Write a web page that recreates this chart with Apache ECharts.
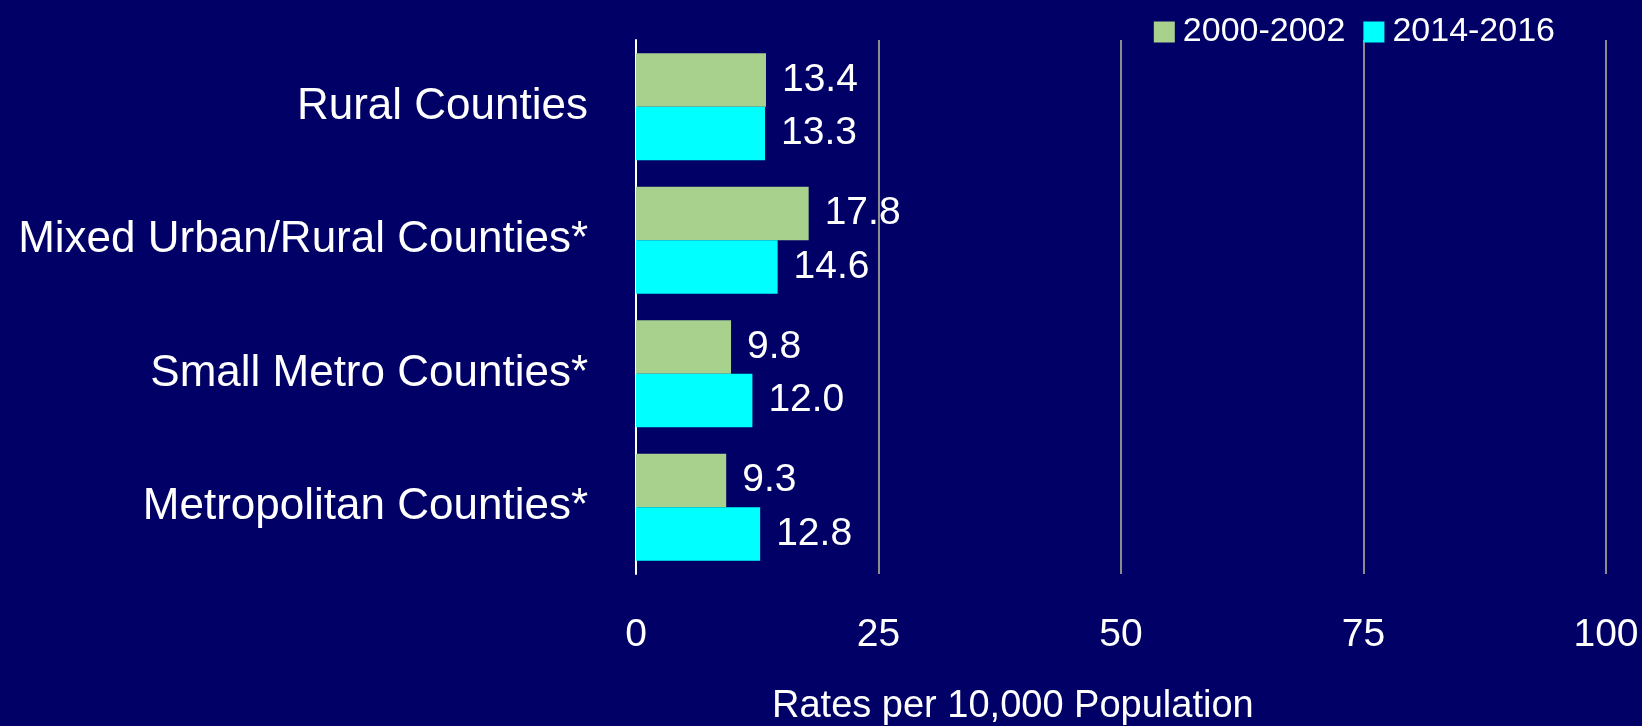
<!DOCTYPE html>
<html>
<head>
<meta charset="utf-8">
<script src="https://cdn.jsdelivr.net/npm/echarts@6/dist/echarts.min.js"></script>
<style>
  html, body { margin: 0; padding: 0; background: #000066; }
  #chart { width: 1642px; height: 726px; }
</style>
</head>
<body>
<div id="chart"></div>
<script>
var categories = ['Rural Counties', 'Mixed Urban/Rural Counties*', 'Small Metro Counties*', 'Metropolitan Counties*'];
var period1 = [13.4, 17.8, 9.8, 9.3];
var period2 = [13.3, 14.6, 12.0, 12.8];
var seriesNames = ['2000-2002', '2014-2016'];

var myChart = echarts.init(document.getElementById('chart'));
var font = 'Liberation Sans';
var option;

option = {
  backgroundColor: '#000066',
  textStyle: { fontFamily: font },
  legend: {
    top: 10,
    right: 82,
    icon: 'rect',
    itemWidth: 21,
    itemHeight: 21,
    itemGap: 18,
    textStyle: { color: '#ffffff', fontSize: 34, fontFamily: font, padding: [0, 0, 0, 3] }
  },
  grid: { left: 636, right: 36, top: 40, bottom: 152 },
  xAxis: {
    type: 'value',
    min: 0,
    max: 100,
    interval: 25,
    axisLine: { show: false },
    axisTick: { show: false },
    axisLabel: { color: '#ffffff', fontSize: 39, margin: 42, fontFamily: font },
    splitLine: { lineStyle: { color: '#8c8c8c', width: 2 } }
  },
  yAxis: {
    type: 'category',
    inverse: true,
    data: categories,
    axisLine: { show: true, lineStyle: { color: '#ffffff', width: 2 } },
    axisTick: { show: false },
    axisLabel: { color: '#ffffff', fontSize: 44, margin: 48, fontFamily: font }
  },
  graphic: [{
    type: 'text',
    left: 772,
    top: 688,
    style: { text: 'Rates per 10,000 Population', fill: '#ffffff', fontSize: 38, fontFamily: font }
  }],
  series: [
    {
      name: seriesNames[0],
      type: 'bar',
      data: period1,
      barGap: '0%',
      barCategoryGap: '20%',
      itemStyle: { color: '#a9d18e' },
      label: { show: true, position: 'right', distance: 16, color: '#ffffff', fontSize: 39, fontFamily: font, formatter: function (p) { return p.value.toFixed(1); } }
    },
    {
      name: seriesNames[1],
      type: 'bar',
      data: period2,
      itemStyle: { color: '#00ffff' },
      label: { show: true, position: 'right', distance: 16, color: '#ffffff', fontSize: 39, fontFamily: font, formatter: function (p) { return p.value.toFixed(1); } }
    }
  ]
};

option && myChart.setOption(option);
</script>
</body>
</html>
